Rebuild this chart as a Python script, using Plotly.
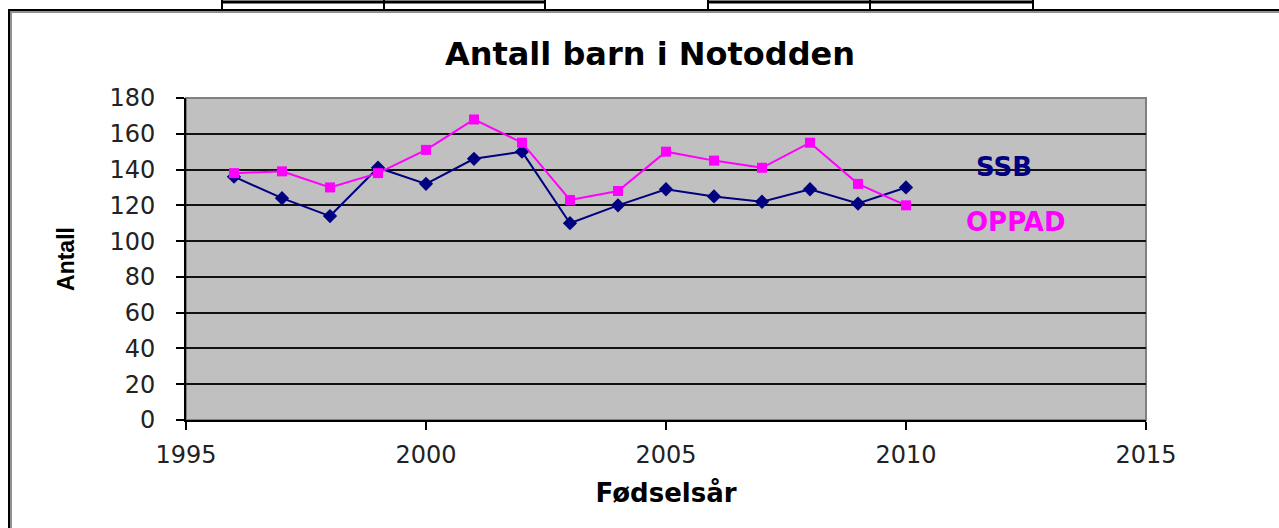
import plotly.graph_objects as go

years = [1996, 1997, 1998, 1999, 2000, 2001, 2002, 2003, 2004, 2005, 2006, 2007, 2008, 2009, 2010]
ssb = [136, 124, 114, 141, 132, 146, 150, 110, 120, 129, 125, 122, 129, 121, 130]
oppad = [138, 139, 130, 138, 151, 168, 155, 123, 128, 150, 145, 141, 155, 132, 120]
x_ticks = [1995, 2000, 2005, 2010, 2015]
y_ticks = [0, 20, 40, 60, 80, 100, 120, 140, 160, 180]

W, H = 1279, 528
L, R, T, B = 186, 133, 98, 108
PW, PH = W - L - R, H - T - B

def px(x):
    return (x - L) / PW

def py(y):
    return (H - B - y) / PH

fig = go.Figure()
fig.add_trace(go.Scatter(x=years, y=ssb, mode="lines+markers", name="SSB",
                         line=dict(color="#000080", width=2),
                         marker=dict(symbol="diamond", size=11, color="#000080")))
fig.add_trace(go.Scatter(x=years, y=oppad, mode="lines+markers", name="OPPAD",
                         line=dict(color="#FF00FF", width=2),
                         marker=dict(symbol="square", size=10, color="#FF00FF")))

shapes = []
# plot area border (gray)
shapes.append(dict(type="rect", xref="paper", yref="paper", x0=0, x1=1, y0=0, y1=1,
                   line=dict(color="#808080", width=2), layer="below"))
# outer chart frame
shapes.append(dict(type="rect", xref="paper", yref="paper", x0=px(11), x1=px(1340),
                   y0=py(600), y1=py(12), line=dict(color="#909090", width=2)))
shapes.append(dict(type="rect", xref="paper", yref="paper", x0=px(9), x1=px(1340),
                   y0=py(600), y1=py(10), line=dict(color="black", width=2)))
# table cells at top
for a, b in [(222, 545), (708, 1033)]:
    shapes.append(dict(type="line", xref="paper", yref="paper", x0=px(a), x1=px(b),
                       y0=py(2), y1=py(2), line=dict(color="black", width=3)))
for xv in [222, 384, 545, 708, 870, 1033]:
    shapes.append(dict(type="line", xref="paper", yref="paper", x0=px(xv), x1=px(xv),
                       y0=py(0), y1=py(10), line=dict(color="black", width=2)))

fig.update_layout(
    width=W, height=H,
    margin=dict(l=L, r=R, t=T, b=B),
    paper_bgcolor="white",
    plot_bgcolor="#C0C0C0",
    showlegend=False,
    font=dict(family="DejaVu Sans, sans-serif", color="black"),
    title=dict(text="<b>Antall barn i Notodden</b>", xref="container", x=650 / W,
               xanchor="center", y=1 - 54 / H, yanchor="middle",
               font=dict(size=32, color="black", family="DejaVu Sans")),
    shapes=shapes,
    annotations=[
        dict(text="<b>SSB</b>", x=2012.04, y=141.4, xref="x", yref="y", showarrow=False,
             font=dict(size=26, color="#000080")),
        dict(text="<b>OPPAD</b>", x=2012.3, y=110.7, xref="x", yref="y", showarrow=False,
             font=dict(size=26, color="#FF00FF")),
    ],
)
fig.update_xaxes(range=[1995, 2015], tickvals=x_ticks, ticktext=[str(v) for v in x_ticks],
                 showgrid=False, zeroline=False, showline=True, linecolor="black", linewidth=2,
                 ticks="outside", ticklen=8, tickwidth=2, tickcolor="black",
                 ticklabelstandoff=4, tickfont=dict(size=24, color="#222222"),
                 title=dict(text="<b>Fødselsår</b>", font=dict(size=26), standoff=16))
fig.update_yaxes(range=[0, 180], tickvals=y_ticks, ticktext=[str(v) for v in y_ticks],
                 showgrid=True, gridcolor="#111111", gridwidth=2, zeroline=False,
                 showline=True, linecolor="black", linewidth=2,
                 ticks="outside", ticklen=8, tickwidth=2, tickcolor="black",
                 ticklabelstandoff=16, tickfont=dict(size=24, color="#222222"),
                 title=dict(text="<b>Antall</b>",
                            font=dict(size=23, family="Liberation Sans Narrow, Liberation Sans, sans-serif"),
                            standoff=28))

fig.write_html("out.html", config={"displayModeBar": False},
               post_script="document.body.style.margin='0';document.body.style.padding='0';")
